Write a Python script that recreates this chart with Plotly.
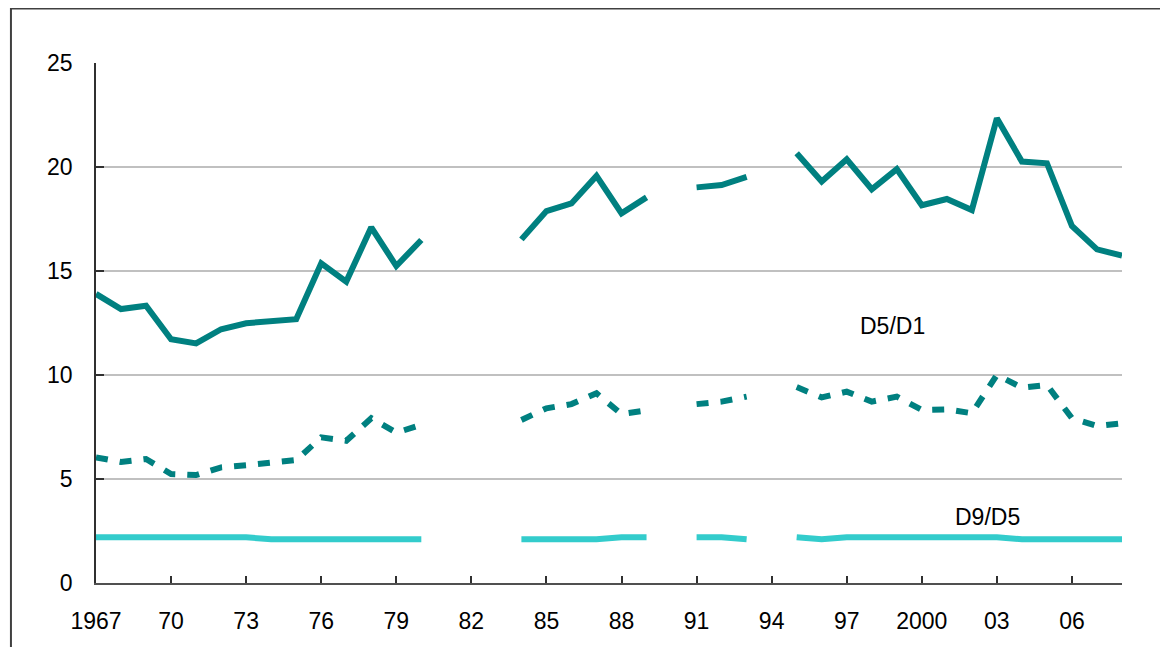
import plotly.graph_objects as go

years = list(range(1967, 2009))

# D9/D1 (solid dark teal)
d9_d1 = [13.9, 13.17, 13.33, 11.72, 11.52, 12.2, 12.49, 12.56, 12.68, 15.37,
         14.49, 17.1, 15.24, 16.49, None, None, None, 16.52, 17.88, 18.25,
         19.57, 17.77, 18.54, None, 19.02, 19.13, 19.53, None, 20.66, 19.3,
         20.37, 18.93, 19.9, 18.16, 18.46, 17.93, 22.34, 20.26, 20.18, 17.16,
         16.04, 15.74]

# D5/D1 (dotted dark teal)
d5_d1 = [6.04, 5.82, 5.96, 5.24, 5.19, 5.56, 5.66, 5.82, 5.91, 7.0,
         6.84, 7.92, 7.23, 7.6, None, None, None, 7.84, 8.4, 8.6,
         9.12, 8.12, 8.3, None, 8.6, 8.72, 8.96, None, 9.42, 8.92,
         9.2, 8.72, 8.96, 8.32, 8.35, 8.16, 10.0, 9.39, 9.52, 7.92,
         7.55, 7.68]

# D9/D5 (light teal)
d9_d5 = [2.2, 2.2, 2.2, 2.2, 2.2, 2.2, 2.2, 2.1, 2.1, 2.1,
         2.1, 2.1, 2.1, 2.1, None, None, None, 2.1, 2.1, 2.1,
         2.1, 2.2, 2.2, None, 2.2, 2.2, 2.1, None, 2.2, 2.1,
         2.2, 2.2, 2.2, 2.2, 2.2, 2.2, 2.2, 2.1, 2.1, 2.1,
         2.1, 2.1]

tick_vals = list(range(1967, 2009, 3))
tick_text = ["1967", "70", "73", "76", "79", "82", "85", "88", "91", "94",
             "97", "2000", "03", "06"]

labels = [("D5/D1", 1998.82, 12.36), ("D9/D5", 2002.64, 3.15)]

DARK = "#008080"
LIGHT = "#33CCCC"
FONT = "Liberation Sans, Arial, sans-serif"

fig = go.Figure()
fig.add_trace(go.Scatter(x=years, y=d9_d1, mode="lines", connectgaps=False,
                         line=dict(color=DARK, width=6), name="D9/D1"))
fig.add_trace(go.Scatter(x=years, y=d5_d1, mode="lines", connectgaps=False,
                         line=dict(color=DARK, width=6, dash="12px,12px"), name="D5/D1"))
fig.add_trace(go.Scatter(x=years, y=d9_d5, mode="lines", connectgaps=False,
                         line=dict(color=LIGHT, width=6), name="D9/D5"))

for txt, xv, yv in labels:
    fig.add_annotation(x=xv, y=yv, text=txt, showarrow=False,
                       font=dict(family=FONT, size=23, color="black"))

# outer frame
fig.add_shape(type="rect", xref="paper", yref="paper",
              x0=-0.0829, x1=1.3, y0=-0.3, y1=1.105,
              line=dict(color="#404040", width=2), layer="above")

fig.update_layout(
    width=1168, height=647,
    margin=dict(l=88, r=54, t=55, b=72),
    paper_bgcolor="white", plot_bgcolor="white",
    showlegend=False,
    font=dict(family=FONT, size=23, color="black"),
    xaxis=dict(range=[1967, 2008], tickmode="array", tickvals=tick_vals,
               ticktext=tick_text, ticks="inside", ticklen=7, tickwidth=1.5,
               tickcolor="#303030", showgrid=False, zeroline=False,
               showline=True, linecolor="#505050", linewidth=2,
               ticklabelstandoff=16),
    yaxis=dict(range=[0, 25], tickvals=[0, 5, 10, 15, 20, 25],
               ticks="inside", ticklen=8, tickwidth=1.5, tickcolor="#303030",
               showgrid=True, gridcolor="#C0C0C0", gridwidth=1.5,
               zeroline=False, showline=True, linecolor="#303030", linewidth=1.5,
               ticklabelstandoff=17),
)

fig.write_html("out.html")
